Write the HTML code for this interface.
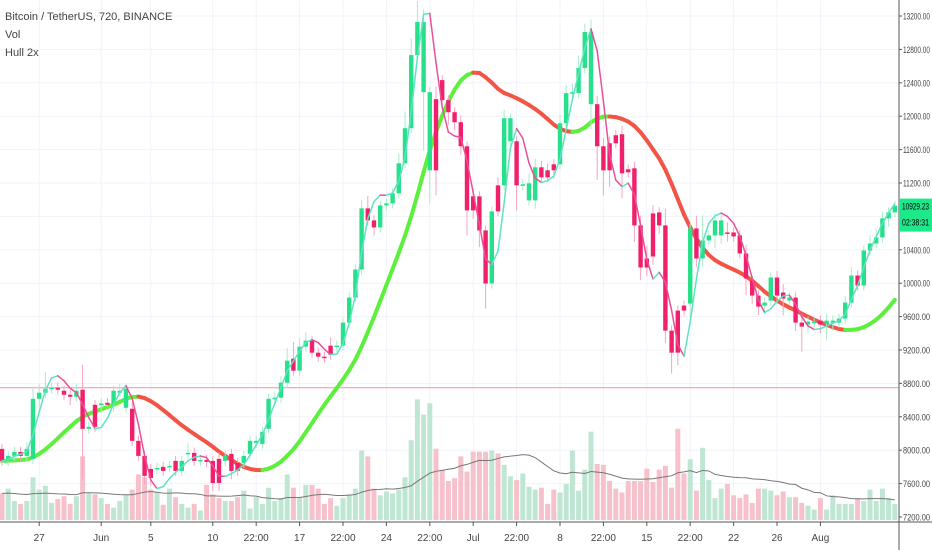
<!DOCTYPE html>
<html><head><meta charset="utf-8"><style>
body{margin:0;background:#fff;width:932px;height:550px;overflow:hidden;font-family:"Liberation Sans",sans-serif}
#c{position:absolute;left:0;top:0}
.lg{position:absolute;left:5px;font-size:11px;color:#444}
</style></head><body>
<svg id="c" width="932" height="550" xmlns="http://www.w3.org/2000/svg"></svg>
<div class="lg" style="top:11px">Bitcoin / TetherUS, 720, BINANCE</div>
<div class="lg" style="top:29px">Vol</div>
<div class="lg" style="top:47px">Hull 2x</div>
<script>
const opens=[8016,7872,7932,7980,7932,7896,8616,8688,8736,8748,8712,8664,8640,8724,8256,8544,8540,8568,8556,8688,8508,8496,8112,7932,7776,7776,7800,7800,7872,7752,7956,7968,7872,7884,7872,7896,7872,7956,7848,7848,7956,8088,8076,8256,8616,8628,8808,9096,8952,9240,9312,9168,9120,9252,9240,9252,9528,9828,10164,10896,10752,10668,10932,10956,11076,11436,11856,12732,12288,11352,12204,12432,12192,12048,11928,11640,11040,11040,10632,9996,11172,11172,11700,11700,11172,10992,10992,11388,11352,11424,11424,11916,12276,12276,12576,12144,12144,11640,11676,11772,11784,11364,11376,10692,10296,10836,10848,10692,9432,9672,9732,9756,10656,10296,10512,10572,10572,10608,10608,10572,10356,10032,9852,9732,9792,10068,9888,9792,9828,9528,9504,9528,9552,9516,9528,9528,9576,9768,10092,9972,10392,10476,10548,10776,10848];
const closes=[7872,7932,7980,7932,8016,8616,8688,8736,8748,8724,8664,8640,8712,8256,8280,8280,8560,8544,8712,8712,8736,8112,7932,7692,7668,7788,7752,7812,7752,7872,7968,7872,7884,7860,7608,7608,7932,7752,7752,7932,8112,8112,8220,8616,8628,8808,9072,8952,9240,9312,9168,9120,9108,9144,9252,9528,9828,10164,10896,10752,10668,10932,10956,11076,11436,11856,12732,13128,13128,12288,11352,12192,12048,11928,11640,10872,10872,10632,9996,10860,10860,11976,11976,11172,11184,11196,11388,11268,11268,11352,11916,12276,12288,12576,13008,13008,11640,11352,11352,11676,11316,11328,10692,10188,10188,10320,10692,9432,9168,9168,9672,10656,10296,10512,10572,10752,10752,10596,10560,10356,10056,9852,9720,9768,10068,9852,9816,9828,9528,9480,9540,9540,9504,9552,9552,9576,9768,10092,9972,10392,10476,10548,10776,10848,10929];
const wickHi=[60,60,60,60,80,120,100,200,60,60,60,60,80,300,60,60,60,60,60,80,60,80,60,60,60,60,60,60,60,60,120,60,60,60,60,80,60,60,60,60,60,60,60,60,60,80,150,200,100,100,60,60,60,100,60,60,60,60,100,150,60,60,60,60,120,200,200,250,150,60,150,60,60,60,80,60,100,60,60,60,100,100,60,60,60,120,100,80,80,60,100,100,100,150,100,150,100,100,80,60,100,60,80,120,150,100,60,200,60,60,60,60,150,300,60,80,80,120,60,60,100,60,60,60,60,80,100,60,60,100,60,60,60,80,60,60,80,100,60,60,100,100,80,60,60];
const wickLo=[60,60,60,60,60,60,100,60,60,60,60,100,60,600,60,60,100,60,100,60,60,60,60,100,100,60,60,60,60,60,60,60,60,60,100,100,60,100,60,60,60,60,60,60,60,60,60,60,60,60,60,60,60,60,60,60,60,60,60,60,100,60,60,60,60,60,60,60,700,400,300,60,150,100,100,300,100,200,300,60,60,60,60,300,60,60,100,60,60,100,60,60,60,60,60,300,400,300,200,60,300,60,200,150,100,100,100,150,250,150,60,200,100,100,60,150,100,100,60,60,200,100,100,100,60,100,200,60,100,300,100,60,100,200,100,60,60,60,60,60,60,60,60,100,60];
const volumes=[28,33,20,17,20,45,32,36,18,22,25,17,25,67,28,27,23,17,13,20,27,32,48,45,32,29,16,33,24,17,13,17,10,37,27,23,20,20,24,31,12,24,17,34,20,23,48,34,24,37,37,33,17,23,15,23,27,33,73,67,33,26,30,28,32,45,84,127,111,123,75,53,41,44,67,51,72,72,72,73,70,58,46,42,49,35,32,34,17,32,29,38,73,31,53,93,59,58,41,33,29,41,41,41,54,40,53,57,34,96,49,64,31,76,42,23,33,38,26,23,27,18,33,33,31,26,30,24,24,18,15,11,23,11,26,17,17,17,23,20,32,20,33,23,17];
const priceTicks=[13200,12800,12400,12000,11600,11200,10800,10400,10000,9600,9200,8800,8400,8000,7600,7200];
const dateLabels=["27","Jun","5","10","22:00","17","22:00","24","22:00","Jul","22:00","8","22:00","15","22:00","22","26","Aug"];
const dateIdx=[6,16,24,34,41,48,55,62,69,76,83,90,97,104,111,118,125,132];
const hLine=8748, lastPrice=10929.23, countdown="02:38:31";

const NS="http://www.w3.org/2000/svg", svg=document.getElementById('c');
const PW=899;
const y=p=>16+(13200-p)*0.0835;
const x=i=>2+6.2*i;
const vy=v=>520-v*0.95;
function el(t,a,p){const e=document.createElementNS(NS,t);for(const k in a)e.setAttribute(k,a[k]);(p||svg).appendChild(e);return e;}
priceTicks.forEach(p=>{const g=el('line',{x1:0,x2:PW,y1:y(p),y2:y(p),stroke:'#f0f3fa','stroke-width':1});

});
dateIdx.forEach(i=>{const g=el('line',{x1:x(i),x2:x(i),y1:0,y2:522,stroke:'#f0f3fa','stroke-width':1});

});
volumes.forEach((v,i)=>{const up=closes[i]>=opens[i];const r=el('rect',{x:x(i)-2.5,y:vy(v),width:5,height:v*0.95,fill:up?'#bfe6d3':'#f7c1cb'});

});
function sma(a,n){return a.map((_,i)=>{let s=0;for(let k=0;k<n;k++){s+=a[Math.max(0,i-k)];}return s/n;});}
const vma=sma(volumes,20);
const vl=el('polyline',{points:vma.map((v,i)=>x(i)+','+vy(v)).join(' '),fill:'none',stroke:'#777','stroke-width':1});


const hl=el('line',{x1:0,x2:PW,y1:y(hLine),y2:y(hLine),stroke:'#f48fb1','stroke-width':1});


function wma(a,n){return a.map((_,i)=>{let s=0,w=0;for(let k=0;k<n;k++){const wt=n-k;s+=a[Math.max(0,i-k)]*wt;w+=wt;}return s/w;});}
function hma(a,n){const h=wma(a,Math.round(n/2)),f=wma(a,n);const d=h.map((v,i)=>2*v-f[i]);return wma(d,Math.round(Math.sqrt(n)));}
function drawHull(vals,w,cu,cd,name){for(let i=1;i<vals.length;i++){const l=el('line',{x1:x(i-1),y1:y(vals[i-1]),x2:x(i),y2:y(vals[i]),stroke:vals[i]>=vals[i-1]?cu:cd,'stroke-width':w,'stroke-linecap':'round'});

}}
drawHull(hma(closes,56),4,'#5cf03c','#f25545','hull-slow-line');
closes.forEach((c,i)=>{const o=opens[i],up=c>=o,col=up?'#26e08a':'#f0206a';
const hi=Math.max(o,c)+wickHi[i],lo=Math.min(o,c)-wickLo[i];
const g=el('g',{});


el('line',{x1:x(i),x2:x(i),y1:y(hi),y2:y(lo),stroke:up?'#a8ecc9':'#f7a4bd','stroke-width':1},g);
const t=y(Math.max(o,c)),b=y(Math.min(o,c));
el('rect',{x:x(i)-2.2,y:t,width:4.4,height:Math.max(1.5,b-t),fill:col},g);});
drawHull(hma(closes,8),1.5,'#5fe3c4','#ec4f99','hull-fast-line');
const ax=el('line',{x1:PW,x2:PW,y1:0,y2:550,stroke:'#555','stroke-width':1});

const bx=el('line',{x1:0,x2:932,y1:522,y2:522,stroke:'#555','stroke-width':1});

priceTicks.forEach(p=>{el('line',{x1:PW,x2:PW+3,y1:y(p),y2:y(p),stroke:'#555'});
const t=el('text',{x:PW+4,y:y(p)+3.5,'font-size':9.5,fill:'#444',textLength:27,lengthAdjust:'spacingAndGlyphs','font-family':'Liberation Sans, sans-serif'});t.textContent=p.toFixed(2);

});
dateLabels.forEach((s,k)=>{const xx=x(dateIdx[k]);el('line',{x1:xx,x2:xx,y1:522,y2:526,stroke:'#555'});
const t=el('text',{x:xx,y:541,'font-size':10,fill:'#444','text-anchor':'middle','font-family':'Liberation Sans, sans-serif'});t.textContent=s;

});
const py=y(lastPrice);
const pr=el('rect',{x:PW,y:py-7,width:33,height:33,fill:'#1de98b'});

const t1=el('text',{x:PW+3,y:py+4,'font-size':9.5,fill:'#000',textLength:27,lengthAdjust:'spacingAndGlyphs','font-family':'Liberation Sans, sans-serif'});t1.textContent=lastPrice.toFixed(2);

const t2=el('text',{x:PW+3,y:py+20,'font-size':9.5,fill:'#000',textLength:27,lengthAdjust:'spacingAndGlyphs','font-family':'Liberation Sans, sans-serif'});t2.textContent=countdown;

</script>
</body></html>
